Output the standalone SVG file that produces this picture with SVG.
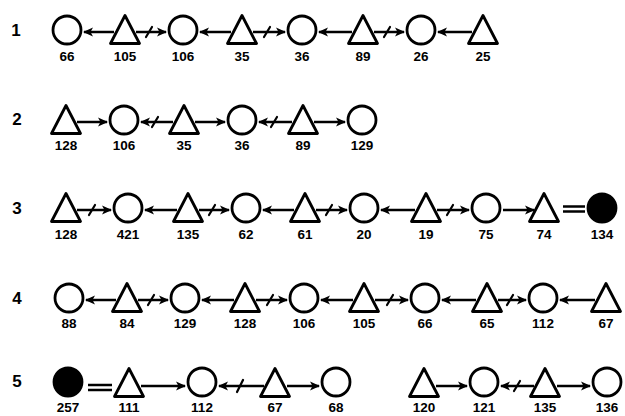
<svg xmlns="http://www.w3.org/2000/svg" width="625" height="416" viewBox="0 0 625 416">
<style>
.c{fill:#fff;stroke:#000;stroke-width:2.8}
.b{fill:#000;stroke:#000;stroke-width:2.8}
.t{fill:#fff;stroke:#000;stroke-width:2.8;stroke-linejoin:round}
.l{font-family:"Liberation Sans",Arial,sans-serif;font-weight:bold;font-size:13.5px;text-anchor:middle;fill:#000}
.r{font-family:"Liberation Sans",Arial,sans-serif;font-weight:bold;font-size:17px;text-anchor:middle;fill:#000}
.a{stroke:#000;stroke-width:2.5;fill:none;marker-end:url(#ah)}
.x{stroke:#000;stroke-width:2.2;fill:none;stroke-linecap:round}
.e{stroke:#000;stroke-width:2.5;fill:none}
</style>
<defs>
<marker id="ah" markerUnits="userSpaceOnUse" markerWidth="12" markerHeight="11" refX="9" refY="5" orient="auto">
<path d="M0,0.5 L10,5 L0,9.5 L2.5,5 z" fill="#000"/>
</marker>
<circle id="C" r="14" class="c"/>
<circle id="B" r="14" class="b"/>
<polygon id="T" points="0,-14.5 14.5,13.5 -14.5,13.5" class="t"/>
</defs>

<g id="row-labels">
<text class="r" x="16" y="36">1</text>
<text class="r" x="17" y="125">2</text>
<text class="r" x="17" y="214">3</text>
<text class="r" x="17" y="304">4</text>
<text class="r" x="17" y="387">5</text>
</g>

<!-- Row 1 -->
<g id="r1-66"><use href="#C" x="67" y="30"/><text class="l" x="67" y="61">66</text></g>
<g id="r1-105"><use href="#T" x="125" y="30"/><text class="l" x="125" y="61">105</text></g>
<g id="r1-106"><use href="#C" x="183" y="30"/><text class="l" x="183" y="61">106</text></g>
<g id="r1-35"><use href="#T" x="242" y="30"/><text class="l" x="242" y="61">35</text></g>
<g id="r1-36"><use href="#C" x="302" y="30"/><text class="l" x="302" y="61">36</text></g>
<g id="r1-89"><use href="#T" x="363" y="30"/><text class="l" x="363" y="61">89</text></g>
<g id="r1-26"><use href="#C" x="421" y="30"/><text class="l" x="421" y="61">26</text></g>
<g id="r1-25"><use href="#T" x="483" y="30"/><text class="l" x="483" y="61">25</text></g>

<!-- Row 2 -->
<g id="r2-128"><use href="#T" x="66" y="120"/><text class="l" x="66" y="150">128</text></g>
<g id="r2-106"><use href="#C" x="124" y="120"/><text class="l" x="124" y="150">106</text></g>
<g id="r2-35"><use href="#T" x="184" y="120"/><text class="l" x="184" y="150">35</text></g>
<g id="r2-36"><use href="#C" x="242" y="120"/><text class="l" x="242" y="150">36</text></g>
<g id="r2-89"><use href="#T" x="303" y="120"/><text class="l" x="303" y="150">89</text></g>
<g id="r2-129"><use href="#C" x="362" y="120"/><text class="l" x="362" y="150">129</text></g>

<!-- Row 3 -->
<g id="r3-128"><use href="#T" x="66" y="208"/><text class="l" x="66" y="239">128</text></g>
<g id="r3-421"><use href="#C" x="128" y="208"/><text class="l" x="128" y="239">421</text></g>
<g id="r3-135"><use href="#T" x="188" y="208"/><text class="l" x="188" y="239">135</text></g>
<g id="r3-62"><use href="#C" x="246" y="208"/><text class="l" x="246" y="239">62</text></g>
<g id="r3-61"><use href="#T" x="305" y="208"/><text class="l" x="305" y="239">61</text></g>
<g id="r3-20"><use href="#C" x="364" y="208"/><text class="l" x="364" y="239">20</text></g>
<g id="r3-19"><use href="#T" x="426" y="208"/><text class="l" x="426" y="239">19</text></g>
<g id="r3-75"><use href="#C" x="486" y="208"/><text class="l" x="486" y="239">75</text></g>
<g id="r3-74"><use href="#T" x="544" y="208"/><text class="l" x="544" y="239">74</text></g>
<g id="r3-134"><use href="#B" x="602" y="208"/><text class="l" x="602" y="239">134</text></g>

<!-- Row 4 -->
<g id="r4-88"><use href="#C" x="69" y="298"/><text class="l" x="69" y="328">88</text></g>
<g id="r4-84"><use href="#T" x="127" y="298"/><text class="l" x="127" y="328">84</text></g>
<g id="r4-129"><use href="#C" x="185" y="298"/><text class="l" x="185" y="328">129</text></g>
<g id="r4-128"><use href="#T" x="245" y="298"/><text class="l" x="245" y="328">128</text></g>
<g id="r4-106"><use href="#C" x="304" y="298"/><text class="l" x="304" y="328">106</text></g>
<g id="r4-105"><use href="#T" x="364" y="298"/><text class="l" x="364" y="328">105</text></g>
<g id="r4-66"><use href="#C" x="425" y="298"/><text class="l" x="425" y="328">66</text></g>
<g id="r4-65"><use href="#T" x="487" y="298"/><text class="l" x="487" y="328">65</text></g>
<g id="r4-112"><use href="#C" x="543" y="298"/><text class="l" x="543" y="328">112</text></g>
<g id="r4-67"><use href="#T" x="606" y="298"/><text class="l" x="606" y="328">67</text></g>

<!-- Row 5 -->
<g id="r5-257"><use href="#B" x="68" y="382"/><text class="l" x="68" y="412">257</text></g>
<g id="r5-111"><use href="#T" x="129" y="383"/><text class="l" x="129" y="412">111</text></g>
<g id="r5-112"><use href="#C" x="202" y="382"/><text class="l" x="202" y="412">112</text></g>
<g id="r5-67"><use href="#T" x="275" y="383"/><text class="l" x="275" y="412">67</text></g>
<g id="r5-68"><use href="#C" x="336" y="382"/><text class="l" x="336" y="412">68</text></g>
<g id="r5-120"><use href="#T" x="424" y="383"/><text class="l" x="424" y="412">120</text></g>
<g id="r5-121"><use href="#C" x="484" y="382"/><text class="l" x="484" y="412">121</text></g>
<g id="r5-135"><use href="#T" x="545" y="383"/><text class="l" x="545" y="412">135</text></g>
<g id="r5-136"><use href="#C" x="607" y="382"/><text class="l" x="607" y="412">136</text></g>

<g id="connectors">
<!-- row 1 -->
<line class="a" x1="114" y1="32" x2="84" y2="32"/>
<line class="a" x1="136" y1="32" x2="166" y2="32"/><line class="x" x1="146" y1="37" x2="152" y2="27"/>
<line class="a" x1="231" y1="32" x2="200" y2="32"/>
<line class="a" x1="253" y1="32" x2="285" y2="32"/><line class="x" x1="264" y1="37" x2="270" y2="27"/>
<line class="a" x1="352" y1="32" x2="319" y2="32"/>
<line class="a" x1="374" y1="32" x2="404" y2="32"/><line class="x" x1="384" y1="37" x2="390" y2="27"/>
<line class="a" x1="472" y1="32" x2="438" y2="32"/>
<!-- row 2 -->
<line class="a" x1="77" y1="122" x2="107" y2="122"/>
<line class="a" x1="173" y1="122" x2="141" y2="122"/><line class="x" x1="152" y1="127" x2="158" y2="117"/>
<line class="a" x1="195" y1="122" x2="225" y2="122"/>
<line class="a" x1="292" y1="122" x2="259" y2="122"/><line class="x" x1="271" y1="127" x2="277" y2="117"/>
<line class="a" x1="314" y1="122" x2="345" y2="122"/>
<!-- row 3 -->
<line class="a" x1="77" y1="210" x2="111" y2="210"/><line class="x" x1="89" y1="215" x2="95" y2="205"/>
<line class="a" x1="177" y1="210" x2="145" y2="210"/>
<line class="a" x1="199" y1="210" x2="229" y2="210"/><line class="x" x1="209" y1="215" x2="215" y2="205"/>
<line class="a" x1="294" y1="210" x2="263" y2="210"/>
<line class="a" x1="316" y1="210" x2="347" y2="210"/><line class="x" x1="326" y1="215" x2="332" y2="205"/>
<line class="a" x1="415" y1="210" x2="381" y2="210"/>
<line class="a" x1="437" y1="210" x2="469" y2="210"/><line class="x" x1="447" y1="215" x2="453" y2="205"/>
<line class="a" x1="503" y1="210" x2="534" y2="210"/>
<line class="e" x1="563" y1="206.5" x2="585" y2="206.5"/><line class="e" x1="563" y1="211.5" x2="585" y2="211.5"/>
<!-- row 4 -->
<line class="a" x1="116" y1="300" x2="86" y2="300"/>
<line class="a" x1="138" y1="300" x2="168" y2="300"/><line class="x" x1="148" y1="305" x2="154" y2="295"/>
<line class="a" x1="234" y1="300" x2="202" y2="300"/>
<line class="a" x1="256" y1="300" x2="287" y2="300"/><line class="x" x1="267" y1="305" x2="273" y2="295"/>
<line class="a" x1="353" y1="300" x2="321" y2="300"/>
<line class="a" x1="375" y1="300" x2="408" y2="300"/><line class="x" x1="387" y1="305" x2="393" y2="295"/>
<line class="a" x1="476" y1="300" x2="442" y2="300"/>
<line class="a" x1="498" y1="300" x2="526" y2="300"/><line class="x" x1="507" y1="305" x2="513" y2="295"/>
<line class="a" x1="595" y1="300" x2="560" y2="300"/>
<!-- row 5 -->
<line class="e" x1="88" y1="385" x2="112" y2="385"/><line class="e" x1="88" y1="390" x2="112" y2="390"/>
<line class="a" x1="141" y1="386" x2="185" y2="386"/>
<line class="a" x1="264" y1="386" x2="219" y2="386"/><line class="x" x1="237" y1="392" x2="243" y2="380"/>
<line class="a" x1="287" y1="386" x2="319" y2="386"/>
<line class="a" x1="436" y1="386" x2="467" y2="386"/>
<line class="a" x1="534" y1="386" x2="501" y2="386"/><line class="x" x1="514" y1="391" x2="520" y2="381"/>
<line class="a" x1="557" y1="386" x2="590" y2="386"/>
</g>
</svg>
